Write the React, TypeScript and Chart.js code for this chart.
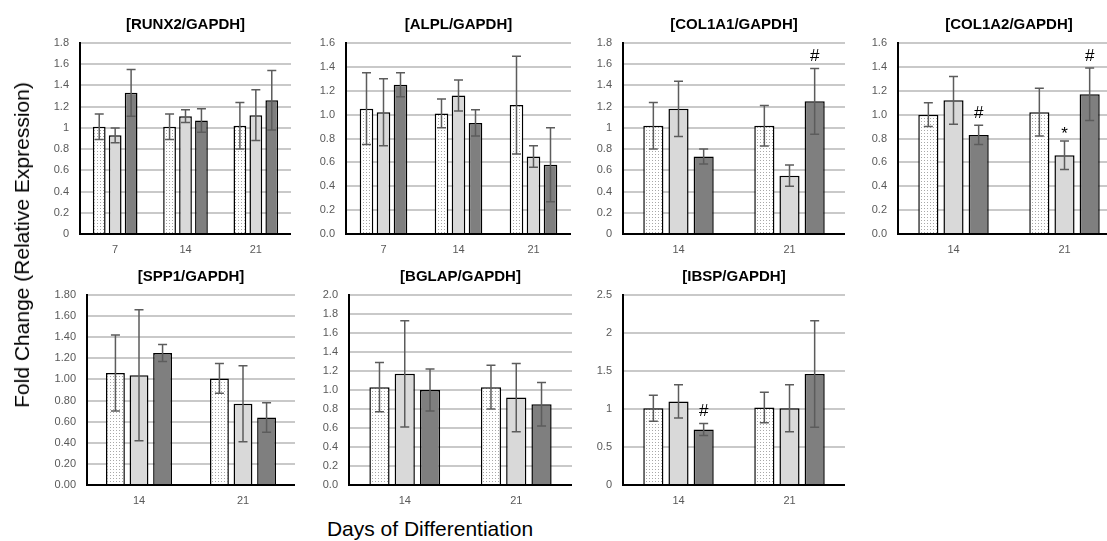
import React, { useEffect, useRef } from 'react';
import { Chart, registerables } from 'chart.js';
Chart.register(...registerables);

// ---------- data ----------
const DAYS_3 = ['7', '14', '21'];
const DAYS_2 = ['14', '21'];

const RUNX2_A = [1.01, 1.01, 1.02];
const RUNX2_A_ERR = [0.12, 0.12, 0.22];
const RUNX2_B = [0.93, 1.11, 1.12];
const RUNX2_B_ERR = [0.07, 0.06, 0.24];
const RUNX2_C = [1.33, 1.07, 1.26];
const RUNX2_C_ERR = [0.22, 0.11, 0.28];

const ALPL_A = [1.05, 1.01, 1.08];
const ALPL_A_ERR = [0.3, 0.12, 0.41];
const ALPL_B = [1.02, 1.16, 0.65];
const ALPL_B_ERR = [0.28, 0.13, 0.09];
const ALPL_C = [1.25, 0.93, 0.58];
const ALPL_C_ERR = [0.1, 0.11, 0.31];

const COL1A1_A = [1.02, 1.02];
const COL1A1_A_ERR = [0.22, 0.19];
const COL1A1_B = [1.18, 0.55];
const COL1A1_B_ERR = [0.26, 0.1];
const COL1A1_C = [0.73, 1.25];
const COL1A1_C_ERR = [0.07, 0.31];
const COL1A1_C_MARKS = ['', '#'];

const COL1A2_A = [1.0, 1.02];
const COL1A2_A_ERR = [0.1, 0.2];
const COL1A2_B = [1.12, 0.66];
const COL1A2_B_ERR = [0.2, 0.12];
const COL1A2_B_MARKS = ['', '*'];
const COL1A2_C = [0.83, 1.17];
const COL1A2_C_ERR = [0.08, 0.22];
const COL1A2_C_MARKS = ['#', '#'];

const SPP1_A = [1.06, 1.01];
const SPP1_A_ERR = [0.36, 0.14];
const SPP1_B = [1.04, 0.77];
const SPP1_B_ERR = [0.62, 0.36];
const SPP1_C = [1.25, 0.64];
const SPP1_C_ERR = [0.08, 0.14];

const BGLAP_A = [1.03, 1.03];
const BGLAP_A_ERR = [0.26, 0.23];
const BGLAP_B = [1.17, 0.92];
const BGLAP_B_ERR = [0.56, 0.36];
const BGLAP_C = [1.0, 0.85];
const BGLAP_C_ERR = [0.22, 0.23];

const IBSP_A = [1.01, 1.02];
const IBSP_A_ERR = [0.17, 0.2];
const IBSP_B = [1.1, 1.01];
const IBSP_B_ERR = [0.22, 0.31];
const IBSP_C = [0.73, 1.46];
const IBSP_C_ERR = [0.08, 0.7];
const IBSP_C_MARKS = ['#', ''];

const Y_TITLE = 'Fold Change (Relative Expression)';
const X_TITLE = 'Days of Differentiation';

type Fmt = 'trim' | 'one' | 'two';
const fmtTick = (v: number, f: Fmt) =>
  f === 'one' ? v.toFixed(1) : f === 'two' ? v.toFixed(2) : String(Number(v.toFixed(2)));

const PANELS = [
  { title: '[RUNX2/GAPDH]', cats: DAYS_3, max: 1.8, step: 0.2, fmt: 'trim' as Fmt,
    a: RUNX2_A, ae: RUNX2_A_ERR, b: RUNX2_B, be: RUNX2_B_ERR, c: RUNX2_C, ce: RUNX2_C_ERR },
  { title: '[ALPL/GAPDH]', cats: DAYS_3, max: 1.6, step: 0.2, fmt: 'one' as Fmt,
    a: ALPL_A, ae: ALPL_A_ERR, b: ALPL_B, be: ALPL_B_ERR, c: ALPL_C, ce: ALPL_C_ERR },
  { title: '[COL1A1/GAPDH]', cats: DAYS_2, max: 1.8, step: 0.2, fmt: 'trim' as Fmt,
    a: COL1A1_A, ae: COL1A1_A_ERR, b: COL1A1_B, be: COL1A1_B_ERR, c: COL1A1_C, ce: COL1A1_C_ERR, cm: COL1A1_C_MARKS },
  { title: '[COL1A2/GAPDH]', cats: DAYS_2, max: 1.6, step: 0.2, fmt: 'one' as Fmt,
    a: COL1A2_A, ae: COL1A2_A_ERR, b: COL1A2_B, be: COL1A2_B_ERR, bm: COL1A2_B_MARKS, c: COL1A2_C, ce: COL1A2_C_ERR, cm: COL1A2_C_MARKS },
  { title: '[SPP1/GAPDH]', cats: DAYS_2, max: 1.8, step: 0.2, fmt: 'two' as Fmt,
    a: SPP1_A, ae: SPP1_A_ERR, b: SPP1_B, be: SPP1_B_ERR, c: SPP1_C, ce: SPP1_C_ERR },
  { title: '[BGLAP/GAPDH]', cats: DAYS_2, max: 2.0, step: 0.2, fmt: 'one' as Fmt,
    a: BGLAP_A, ae: BGLAP_A_ERR, b: BGLAP_B, be: BGLAP_B_ERR, c: BGLAP_C, ce: BGLAP_C_ERR },
  { title: '[IBSP/GAPDH]', cats: DAYS_2, max: 2.5, step: 0.5, fmt: 'trim' as Fmt,
    a: IBSP_A, ae: IBSP_A_ERR, b: IBSP_B, be: IBSP_B_ERR, c: IBSP_C, ce: IBSP_C_ERR, cm: IBSP_C_MARKS },
];

// ---------- layout (plot areas in page pixels) ----------
const Y_AXIS_W = 50;
const X_AXIS_H = 26;
const TITLE_BLOCK = 43;
const TITLE_SIZE = 15;
const AREAS = [
  { L: 80, T: 43, R: 291, B: 234 },
  { L: 346, T: 43, R: 571, B: 234 },
  { L: 623, T: 43, R: 845, B: 234 },
  { L: 898, T: 43, R: 1120, B: 234 },
  { L: 87, T: 295, R: 295, B: 485 },
  { L: 349, T: 295, R: 572, B: 485 },
  { L: 623, T: 295, R: 845, B: 485 },
];

const FONT = '"Liberation Sans", Arial, sans-serif';

const errorBarPlugin = {
  id: 'errorBars',
  afterDatasetsDraw(chart: any) {
    const ctx = chart.ctx;
    const y = chart.scales.y;
    chart.data.datasets.forEach((ds: any, di: number) => {
      const meta = chart.getDatasetMeta(di);
      meta.data.forEach((bar: any, i: number) => {
        const v = ds.data[i];
        const e = ds.errors[i];
        const top = y.getPixelForValue(v + e);
        const bot = y.getPixelForValue(v - e);
        ctx.save();
        ctx.strokeStyle = '#5c5c5c';
        ctx.lineWidth = 1.5;
        ctx.beginPath();
        ctx.moveTo(bar.x, top);
        ctx.lineTo(bar.x, bot);
        ctx.moveTo(bar.x - 4.5, top);
        ctx.lineTo(bar.x + 4.5, top);
        ctx.moveTo(bar.x - 4.5, bot);
        ctx.lineTo(bar.x + 4.5, bot);
        ctx.stroke();
        const m = ds.marks ? ds.marks[i] : '';
        if (m) {
          ctx.fillStyle = '#000';
          ctx.font = '17px ' + FONT;
          ctx.textAlign = 'center';
          ctx.textBaseline = 'alphabetic';
          ctx.fillText(m, bar.x, top - (m === '*' ? 2 : 7));
        }
        ctx.restore();
      });
    });
  },
};

function makePattern(): CanvasPattern | string {
  const pc = document.createElement('canvas');
  pc.width = 3;
  pc.height = 3;
  const c = pc.getContext('2d');
  if (!c) return '#f4f4f4';
  c.fillStyle = '#ffffff';
  c.fillRect(0, 0, 3, 3);
  c.fillStyle = '#a8a8a8';
  c.fillRect(1, 1, 1, 1);
  const p = c.createPattern(pc, 'repeat');
  return p || '#f4f4f4';
}

function Panel({ idx }: { idx: number }) {
  const ref = useRef<HTMLCanvasElement>(null);
  const p: any = PANELS[idx];
  const a = AREAS[idx];
  const w = a.R - a.L + Y_AXIS_W;
  const h = a.B - a.T + TITLE_BLOCK + X_AXIS_H;
  useEffect(() => {
    if (!ref.current) return;
    const pattern = makePattern();
    const common = { borderColor: '#000', borderWidth: 1.5, categoryPercentage: 0.68, barPercentage: 0.8 };
    const titleH = TITLE_SIZE * 1.2;
    const chart = new Chart(ref.current, {
      type: 'bar',
      data: {
        labels: p.cats,
        datasets: [
          { ...common, data: p.a, errors: p.ae, marks: p.am, backgroundColor: pattern },
          { ...common, data: p.b, errors: p.be, marks: p.bm, backgroundColor: '#d9d9d9' },
          { ...common, data: p.c, errors: p.ce, marks: p.cm, backgroundColor: '#7f7f7f' },
        ] as any,
      },
      options: {
        responsive: false,
        animation: false,
        layout: { padding: 0 },
        plugins: {
          legend: { display: false },
          tooltip: { enabled: false },
          title: {
            display: true,
            text: p.title,
            fullSize: false,
            color: '#000',
            font: { family: FONT, size: TITLE_SIZE, weight: 'bold' },
            padding: { top: 24.5 - titleH / 2, bottom: TITLE_BLOCK - (24.5 + titleH / 2) },
          },
        },
        scales: {
          x: {
            grid: { display: false, drawTicks: false },
            border: { color: '#000', width: 2 },
            ticks: { color: '#595959', font: { family: FONT, size: 11 }, padding: 9 },
            afterFit: (s: any) => { s.height = X_AXIS_H; },
          },
          y: {
            min: 0,
            max: p.max,
            grid: {
              drawTicks: false,
              lineWidth: 2,
              color: (c: any) => (c.tick && c.tick.value === 0 ? 'rgba(0,0,0,0)' : '#c9c9c9'),
            },
            border: { color: '#000', width: 2 },
            ticks: {
              stepSize: p.step,
              color: '#595959',
              font: { family: FONT, size: 11 },
              padding: 11,
              callback: (v: any) => fmtTick(Number(v), p.fmt),
            },
            afterFit: (s: any) => { s.width = Y_AXIS_W; },
          },
        },
      } as any,
      plugins: [errorBarPlugin],
    });
    return () => chart.destroy();
  }, []);
  return (
    <canvas
      ref={ref}
      width={w}
      height={h}
      style={{ position: 'absolute', left: a.L - Y_AXIS_W, top: a.T - TITLE_BLOCK, width: w, height: h }}
    />
  );
}

export default function App() {
  return (
    <div
      style={{
        position: 'fixed', left: 0, top: 0, width: 1107, height: 541,
        overflow: 'hidden', background: '#fff',
      }}
    >
      {PANELS.map((_, i) => <Panel key={i} idx={i} />)}
      <div
        style={{
          position: 'absolute', left: 22, top: 245, transform: 'translate(-50%, -50%) rotate(-90deg)',
          whiteSpace: 'nowrap', font: '21px ' + FONT, color: '#000',
        }}
      >
        {Y_TITLE}
      </div>
      <div
        style={{
          position: 'absolute', left: 430, top: 517, transform: 'translateX(-50%)',
          whiteSpace: 'nowrap', font: '21px ' + FONT, color: '#000',
        }}
      >
        {X_TITLE}
      </div>
    </div>
  );
}
